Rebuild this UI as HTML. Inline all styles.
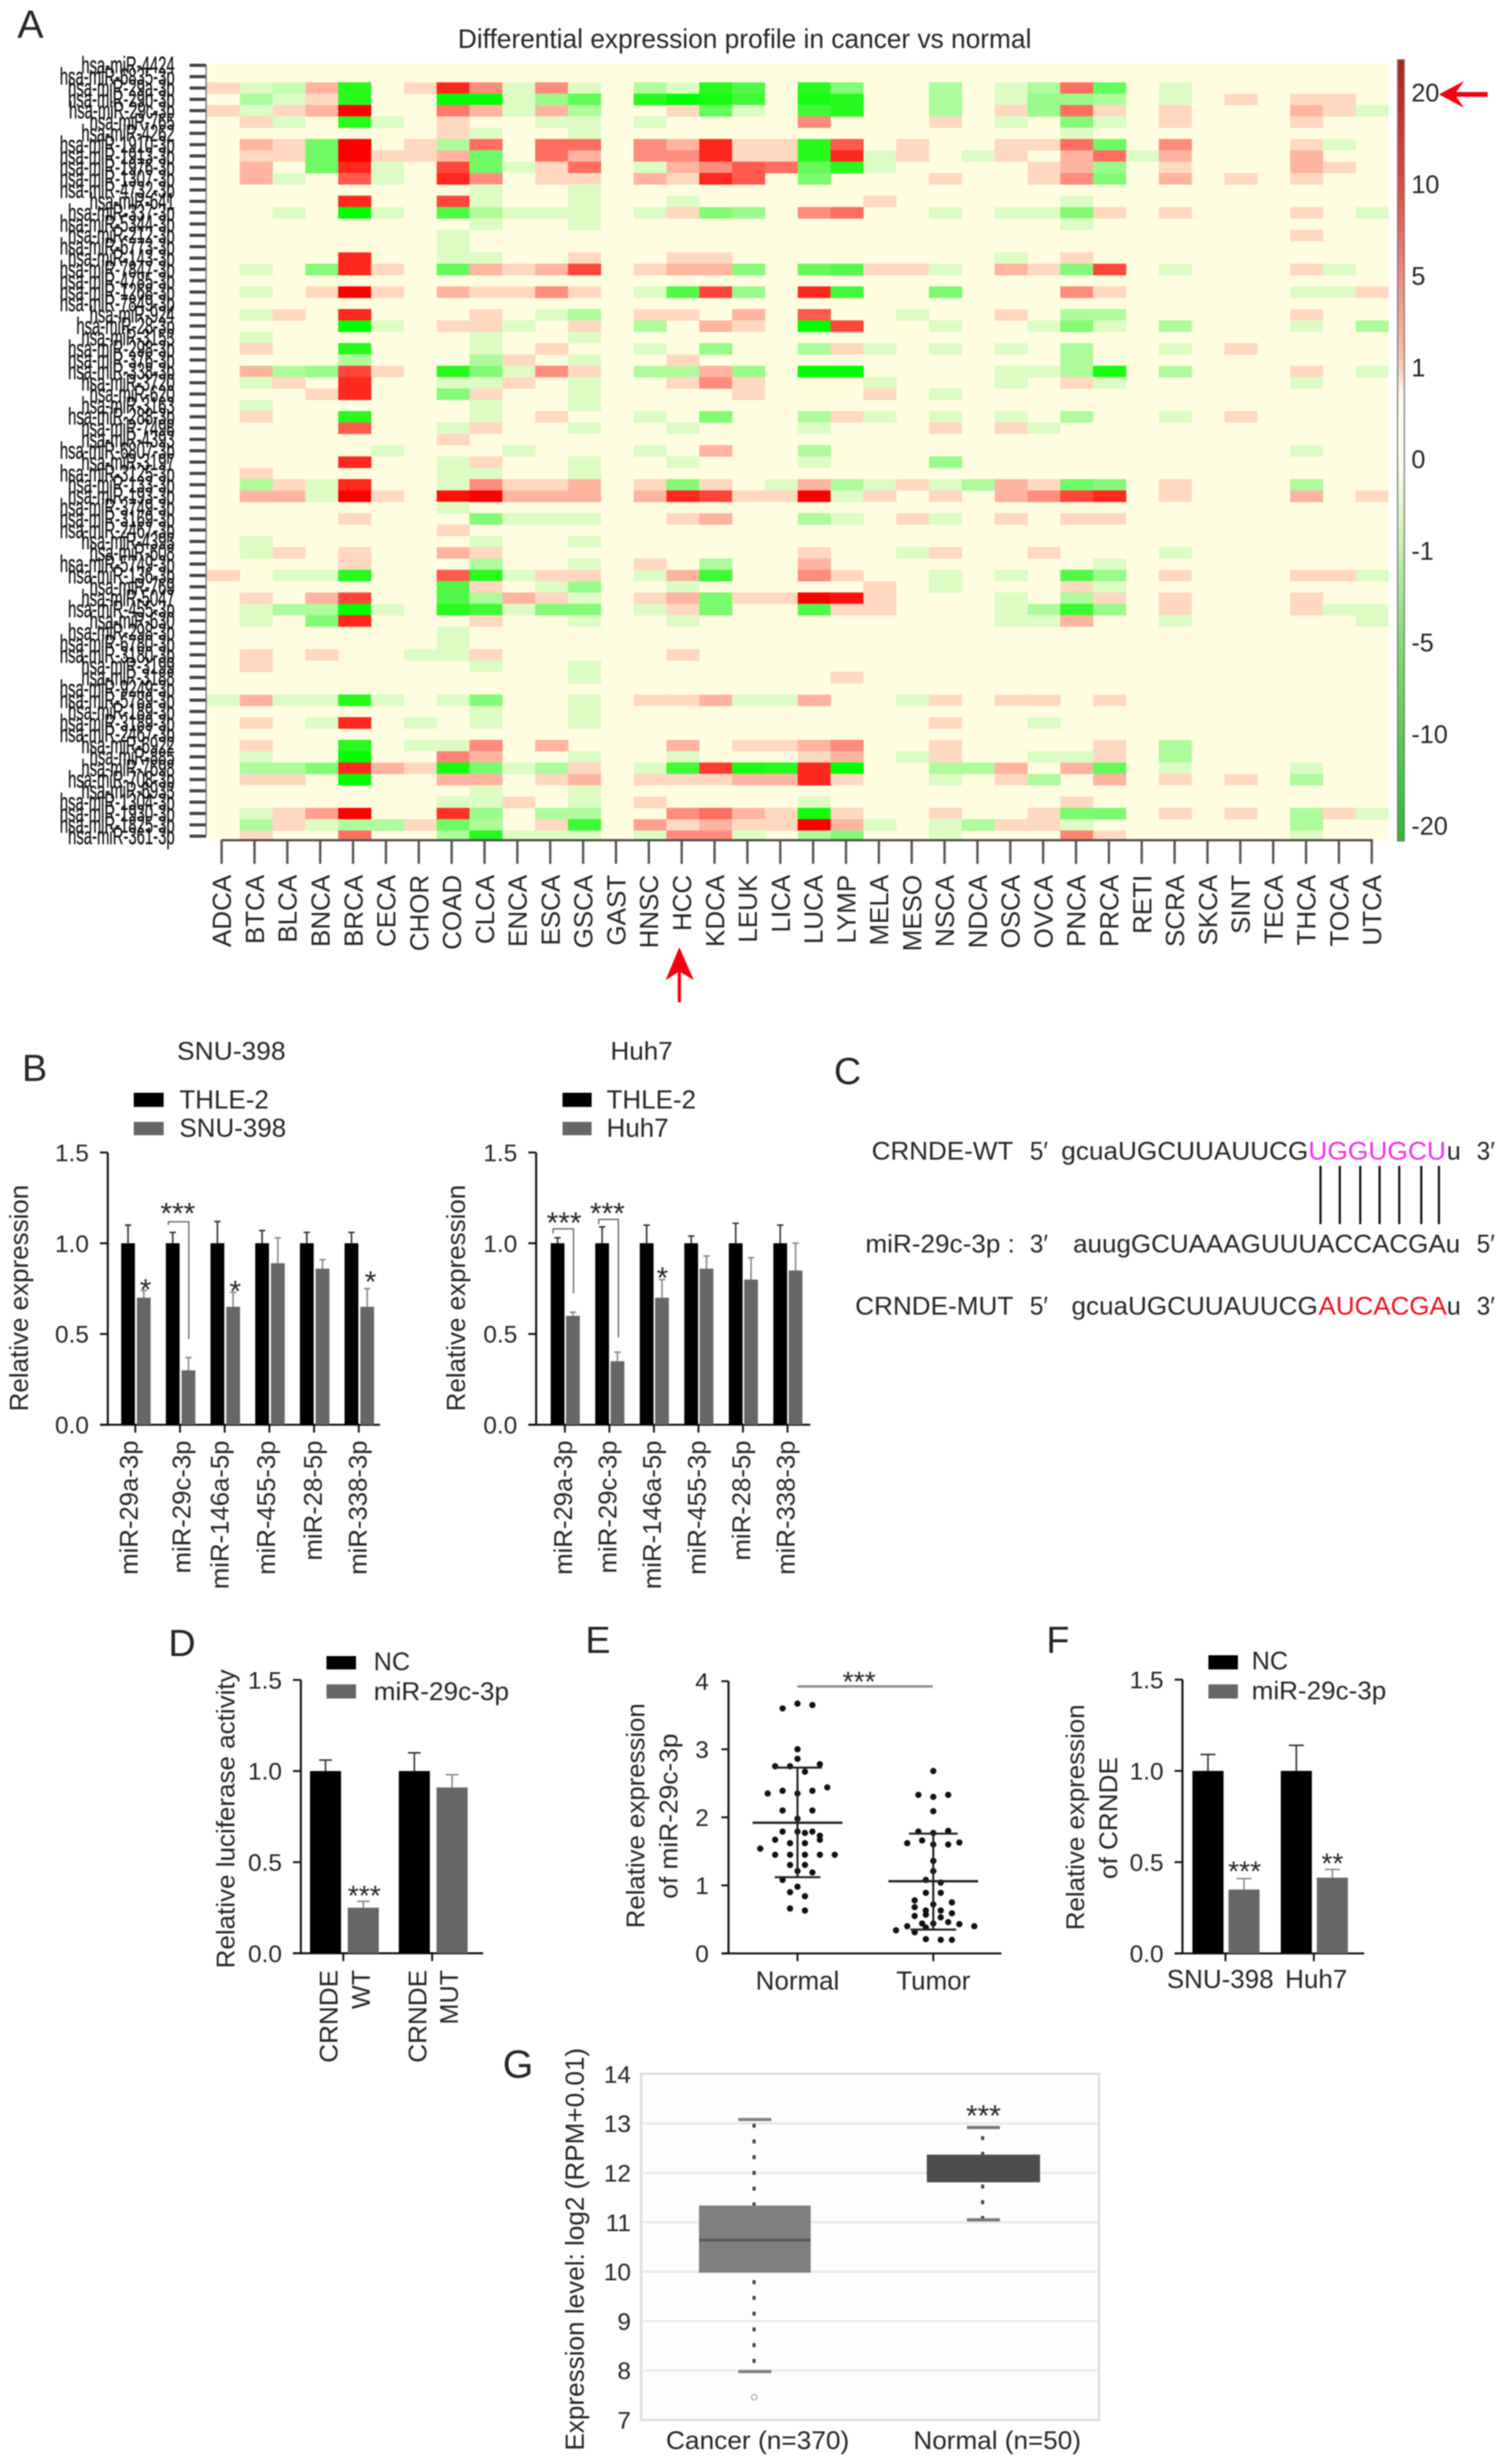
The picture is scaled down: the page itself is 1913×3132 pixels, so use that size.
<!DOCTYPE html>
<html lang="en">
<head>
<meta charset="utf-8">
<title>miR-29c-3p figure</title>
<style>
html,body{margin:0;padding:0;background:#fff;}
svg{display:block;filter:blur(0.8px);}
text{font-family:"Liberation Sans",Arial,sans-serif;fill:#262626;}
</style>
</head>
<body>
<svg id="fig" xmlns="http://www.w3.org/2000/svg" width="1913" height="3132" viewBox="0 0 1913 3132">
<defs>
<linearGradient id="cbGrad" x1="0" y1="76" x2="0" y2="1069" gradientUnits="userSpaceOnUse">
<stop offset="0" stop-color="#a8201a"/><stop offset="0.043" stop-color="#c02a20"/><stop offset="0.16" stop-color="#dd4a40"/><stop offset="0.275" stop-color="#ee8a7a"/><stop offset="0.39" stop-color="#f9c8b4"/><stop offset="0.43" stop-color="#fffdf0"/><stop offset="0.51" stop-color="#fffff0"/><stop offset="0.625" stop-color="#c8f0b0"/><stop offset="0.745" stop-color="#80e070"/><stop offset="0.86" stop-color="#58d048"/><stop offset="1" stop-color="#2cb82c"/>
</linearGradient>
<clipPath id="heatClip"><rect x="263" y="80" width="1502" height="988"/></clipPath>
</defs>

<!-- Panel letters -->
<text x="22" y="48" font-size="50">A</text>
<text x="28" y="1374" font-size="48">B</text>
<text x="1060" y="1378" font-size="48">C</text>
<text x="214" y="2105" font-size="48">D</text>
<text x="744" y="2101" font-size="48">E</text>
<text x="1330" y="2101" font-size="48">F</text>
<text x="639" y="2641" font-size="50">G</text>

<!-- Panel A static -->
<text x="582" y="61" font-size="34" textLength="729" lengthAdjust="spacingAndGlyphs" fill="#333">Differential expression profile in cancer vs normal</text>
<rect x="263" y="80" width="1502" height="988" fill="#fffde0"/>
<g id="heatCells" clip-path="url(#heatClip)"></g>
<g id="heatRowLabels"></g>
<g id="heatRowTicks"></g>
<line x1="262" y1="83" x2="262" y2="1062" stroke="#666" stroke-width="1.5"/>
<line x1="281" y1="1068" x2="1745" y2="1068" stroke="#555" stroke-width="3"/>
<g id="heatColTicks"></g>
<g id="heatColLabels"></g>
<rect x="1776.5" y="76" width="8.5" height="993" fill="url(#cbGrad)" stroke="#777" stroke-width="1.5"/>
<g id="cbLabels"></g>
<polygon points="1829,120 1861,103 1851,117 1891,117 1891,123 1851,123 1861,137" fill="#f5000f"/>
<polygon points="863.5,1204 882,1246 865.5,1236 865.5,1274 861.5,1274 861.5,1236 846,1246" fill="#f5000f"/>

<!-- Panel B static -->
<text x="225" y="1347" font-size="32" textLength="138" lengthAdjust="spacingAndGlyphs">SNU-398</text>
<text x="776" y="1347" font-size="32" textLength="79" lengthAdjust="spacingAndGlyphs">Huh7</text>
<rect x="170" y="1389" width="38" height="18" fill="#000"/>
<rect x="170" y="1426" width="38" height="17" fill="#666"/>
<text x="228" y="1409" font-size="33">THLE-2</text>
<text x="228" y="1445" font-size="33">SNU-398</text>
<rect x="715" y="1389" width="37" height="18" fill="#000"/>
<rect x="715" y="1426" width="37" height="17" fill="#666"/>
<text x="771" y="1409" font-size="33">THLE-2</text>
<text x="771" y="1445" font-size="33">Huh7</text>
<text transform="rotate(-90 35.5 1650)" x="35.5" y="1650" text-anchor="middle" font-size="33" textLength="288" lengthAdjust="spacingAndGlyphs">Relative expression</text>
<text transform="rotate(-90 591 1650)" x="591" y="1650" text-anchor="middle" font-size="33" textLength="288" lengthAdjust="spacingAndGlyphs">Relative expression</text>
<g id="chartB1"></g>
<g id="chartB2"></g>
<g>
<text x="185" y="1652" text-anchor="middle" font-size="38" fill="#111">*</text>
<text x="226" y="1555" text-anchor="middle" font-size="38" fill="#111">***</text>
<path d="M214 1557 V1553 H240 V1702" fill="none" stroke="#555" stroke-width="1.5"/>
<text x="299" y="1654" text-anchor="middle" font-size="38" fill="#111">*</text>
<text x="471" y="1642" text-anchor="middle" font-size="38" fill="#111">*</text>
</g>
<g>
<text x="717" y="1567" text-anchor="middle" font-size="38" fill="#111">***</text>
<path d="M703 1568 V1562 H729 V1644" fill="none" stroke="#555" stroke-width="1.5"/>
<text x="772" y="1555" text-anchor="middle" font-size="38" fill="#111">***</text>
<path d="M761 1556 V1550 H786 V1700" fill="none" stroke="#555" stroke-width="1.5"/>
<text x="842" y="1637" text-anchor="middle" font-size="38" fill="#111">*</text>
</g>

<!-- Panel C -->
<g font-size="32">
<text x="1108" y="1474" textLength="180" lengthAdjust="spacingAndGlyphs">CRNDE-WT</text>
<text x="1309" y="1474" textLength="23" lengthAdjust="spacingAndGlyphs">5′</text>
<text x="1349" y="1474" textLength="314" lengthAdjust="spacingAndGlyphs">gcuaUGCUUAUUCG</text>
<text x="1663" y="1474" textLength="175" lengthAdjust="spacingAndGlyphs" style="fill:#f030f0">UGGUGCU</text>
<text x="1839" y="1474">u</text>
<text x="1877" y="1474" textLength="23" lengthAdjust="spacingAndGlyphs">3′</text>
<text x="1100" y="1592" textLength="190" lengthAdjust="spacingAndGlyphs">miR-29c-3p :</text>
<text x="1309" y="1592" textLength="23" lengthAdjust="spacingAndGlyphs">3′</text>
<text x="1364" y="1592" textLength="492" lengthAdjust="spacingAndGlyphs">auugGCUAAAGUUUACCACGAu</text>
<text x="1877" y="1592" textLength="23" lengthAdjust="spacingAndGlyphs">5′</text>
<text x="1087" y="1671" textLength="201" lengthAdjust="spacingAndGlyphs">CRNDE-MUT</text>
<text x="1309" y="1671" textLength="23" lengthAdjust="spacingAndGlyphs">5′</text>
<text x="1362" y="1671" textLength="313" lengthAdjust="spacingAndGlyphs">gcuaUGCUUAUUCG</text>
<text x="1676" y="1671" textLength="163" lengthAdjust="spacingAndGlyphs" style="fill:#f01020">AUCACGA</text>
<text x="1839" y="1671">u</text>
<text x="1877" y="1671" textLength="23" lengthAdjust="spacingAndGlyphs">3′</text>
<path d="M1678.5 1482V1556M1703 1482V1556M1729 1482V1556M1753.6 1482V1556M1778.6 1482V1556M1806.6 1482V1556M1829 1482V1556" stroke="#111" stroke-width="2.8"/>
</g>

<!-- Panel D static -->
<rect x="415" y="2105" width="37.5" height="17" fill="#000"/>
<rect x="415" y="2141" width="37.5" height="18" fill="#666"/>
<text x="475" y="2123" font-size="32">NC</text>
<text x="475" y="2161" font-size="32" textLength="172" lengthAdjust="spacingAndGlyphs">miR-29c-3p</text>
<text transform="rotate(-90 298 2312)" x="298" y="2312" text-anchor="middle" font-size="32" textLength="380" lengthAdjust="spacingAndGlyphs">Relative luciferase activity</text>
<g id="chartD"></g>
<text x="463" y="2422" text-anchor="middle" font-size="36" fill="#111">***</text>
<text transform="rotate(-90 429 2504)" x="429" y="2504" text-anchor="end" font-size="32" textLength="118" lengthAdjust="spacingAndGlyphs">CRNDE</text>
<text transform="rotate(-90 470 2504)" x="470" y="2504" text-anchor="end" font-size="32">WT</text>
<text transform="rotate(-90 542 2504)" x="542" y="2504" text-anchor="end" font-size="32" textLength="118" lengthAdjust="spacingAndGlyphs">CRNDE</text>
<text transform="rotate(-90 582 2504)" x="582" y="2504" text-anchor="end" font-size="32">MUT</text>

<!-- Panel E static -->
<text transform="rotate(-90 819 2308)" x="819" y="2308" text-anchor="middle" font-size="32" textLength="286" lengthAdjust="spacingAndGlyphs">Relative expression</text>
<text transform="rotate(-90 861 2308.5)" x="861" y="2308.5" text-anchor="middle" font-size="32" textLength="210" lengthAdjust="spacingAndGlyphs">of miR-29c-3p</text>
<g id="chartE"></g>
<line x1="1013.7" y1="2143.6" x2="1185.6" y2="2143.6" stroke="#888" stroke-width="3"/>
<text x="1092" y="2150" text-anchor="middle" font-size="36" fill="#111">***</text>

<!-- Panel F static -->
<rect x="1536" y="2104" width="37.5" height="18" fill="#000"/>
<rect x="1536" y="2141" width="37.5" height="18" fill="#666"/>
<text x="1591" y="2122" font-size="32">NC</text>
<text x="1591" y="2160" font-size="32" textLength="171" lengthAdjust="spacingAndGlyphs">miR-29c-3p</text>
<text transform="rotate(-90 1378 2310)" x="1378" y="2310" text-anchor="middle" font-size="32" textLength="287" lengthAdjust="spacingAndGlyphs">Relative expression</text>
<text transform="rotate(-90 1420 2311)" x="1420" y="2311" text-anchor="middle" font-size="32" textLength="155" lengthAdjust="spacingAndGlyphs">of CRNDE</text>
<g id="chartF"></g>
<text x="1582" y="2391" text-anchor="middle" font-size="36" fill="#111">***</text>
<text x="1693.7" y="2381" text-anchor="middle" font-size="36" fill="#111">**</text>

<!-- Panel G static -->
<text transform="rotate(-90 742 2859)" x="742" y="2859" text-anchor="middle" font-size="33" textLength="512" lengthAdjust="spacingAndGlyphs">Expression level: log2 (RPM+0.01)</text>
<rect x="815" y="2636" width="582" height="440" fill="#fdfdfd" stroke="#ddd" stroke-width="3"/>
<g id="chartG"></g>
<text x="1250" y="2702" text-anchor="middle" font-size="38" fill="#111">***</text>

<script>
// ---------- Panel A data ----------
const heatColumns = ['ADCA','BTCA','BLCA','BNCA','BRCA','CECA','CHOR','COAD','CLCA','ENCA','ESCA','GSCA','GAST','HNSC','HCC','KDCA','LEUK','LICA','LUCA','LYMP','MELA','MESO','NSCA','NDCA','OSCA','OVCA','PNCA','PRCA','RETI','SCRA','SKCA','SINT','TECA','THCA','TOCA','UTCA'];
const heatRows = ['hsa-miR-4424','hsa-miR-6835-3p','hsa-miR-29a-3p','hsa-miR-29b-3p','hsa-miR-29c-3p','hsa-miR-765','hsa-miR-4262','hsa-miR-1910-3p','hsa-miR-1913-3p','hsa-miR-1976-3p','hsa-miR-1307-3p','hsa-miR-4732-3p','hsa-miR-641','hsa-miR-337-3p','hsa-miR-5344-3p','hsa-miR-212-3p','hsa-miR-6773-3p','hsa-miR-143-3p','hsa-miR-7847-3p','hsa-miR-4785-3p','hsa-miR-1268-3p','hsa-miR-7849-3p','hsa-miR-924','hsa-miR-28-3p','hsa-miR-3153','hsa-miR-298-3p','hsa-miR-376-3p','hsa-miR-338-3p','hsa-miR-3720','hsa-miR-620','hsa-miR-3163','hsa-miR-288-3p','hsa-miR-7498','hsa-miR-4393','hsa-miR-6807-3p','hsa-miR-3197','hsa-miR-3125-3p','hsa-miR-133-3p','hsa-miR-193-3p','hsa-miR-3749-3p','hsa-miR-3169-3p','hsa-miR-2467-3p','hsa-miR-4393','hsa-miR-608','hsa-miR-5749-3p','hsa-miR-136-3p','hsa-miR-769','hsa-miR-5047','hsa-miR-455-3p','hsa-miR-630','hsa-miR-298-3p','hsa-miR-6780-3p','hsa-miR-3180-3p','hsa-miR-3199','hsa-miR-3188','hsa-miR-9249-3p','hsa-miR-5789-3p','hsa-miR-189-3p','hsa-miR-3189-3p','hsa-miR-2467-3p','hsa-miR-6922','hsa-miR-885','hsa-miR-7698','hsa-miR-708-3p','hsa-miR-6933','hsa-miR-1304-3p','hsa-miR-1930-3p','hsa-miR-1825-3p','hsa-miR-361-3p'];
const heatValues = [
{},
{},
{0:1,1:-1,2:-2,3:3,4:-15,6:1,7:15,8:5,9:-1,10:5,11:-1,13:-3,14:-1,15:-15,16:-10,18:-15,19:-5,22:-3,24:-1,25:-3,26:8,27:-8,29:-1},
{1:-3,2:-1,3:1,4:-15,7:-20,8:-20,9:-1,10:-4,11:-8,13:-15,14:-20,15:-17,16:-12,18:-17,19:-15,22:-3,24:-1,25:-4,26:-4,27:-3,29:-1,31:1,33:1,34:1},
{0:1,1:-1,2:1,3:3,4:20,7:7,8:3,9:-1,10:3,11:-3,14:1,15:-8,16:-1,18:-12,19:-15,22:-3,24:1,25:-4,26:8,27:1,29:1,33:3,34:1,35:-1},
{1:1,2:-1,4:-15,5:-1,7:1,10:-1,11:-1,13:-1,18:5,22:1,24:-1,26:-5,27:-1,29:1,33:1},
{7:1,8:-1,11:-1,26:-1},
{1:3,2:1,3:-7,4:20,6:1,7:-3,8:8,10:8,11:8,13:5,14:3,15:15,16:1,17:1,18:-15,19:10,21:1,24:1,25:1,26:8,27:-7,29:5,33:1,34:-1},
{1:1,2:1,3:-7,4:20,5:1,6:1,7:3,8:-7,10:8,11:3,13:5,14:5,15:15,16:1,17:1,18:-15,19:15,20:-1,21:1,23:-1,24:1,26:3,27:8,28:-1,29:3,33:3},
{1:3,3:-7,4:15,5:-1,7:12,8:-7,9:-1,10:1,11:8,13:-1,14:3,15:5,16:10,17:8,18:-8,19:-15,20:-1,25:1,26:3,27:-4,29:1,33:3,34:1},
{1:3,2:-1,4:10,5:-1,7:15,8:5,10:1,11:1,13:3,14:1,15:15,16:10,18:-6,22:1,25:1,26:5,27:-5,29:3,31:1,33:1},
{8:-1,11:-1},
{4:15,7:12,8:-1,11:-1,14:-1,20:1,26:-1},
{2:-1,4:-20,5:-1,7:-10,8:-3,9:-1,10:-1,11:-1,13:-1,14:1,15:-5,16:-4,18:5,19:8,22:-1,24:-1,25:-1,26:-5,27:1,29:1,33:1,35:-1},
{8:-1,11:-1,26:-1},
{7:-1,33:1},
{7:-1},
{4:15,7:-1,8:-1,11:1,14:1,15:1,24:-1,26:1},
{1:-1,3:-5,4:15,5:1,7:-8,8:3,9:1,10:3,11:12,13:1,14:3,15:3,16:-5,18:-8,19:-10,20:1,21:1,22:-1,24:3,25:1,26:-5,27:12,29:-1,33:1,34:-1},
{},
{1:-1,3:1,4:20,5:1,7:3,8:1,9:1,10:5,11:1,13:-1,14:-10,15:12,16:-4,18:15,19:-12,22:-6,26:5,27:1,33:-1,34:-1,35:1},
{},
{1:-1,2:1,4:15,8:1,10:-1,11:-3,13:1,14:1,16:3,18:10,21:-1,24:1,26:-3,27:-3,33:1},
{4:-20,5:-1,7:1,8:1,9:-1,11:1,13:-3,15:3,16:1,18:-20,19:12,22:-1,25:-1,26:-5,27:-1,29:-3,33:-1,35:-3},
{1:-1,8:-1,11:-1},
{1:1,4:-15,8:-1,10:1,13:-1,15:-4,18:-3,19:1,20:-1,22:-1,24:-1,26:-3,29:-1,31:1},
{4:-3,8:-3,9:1,11:-1,14:1,26:-3},
{1:3,2:-3,3:-4,4:12,5:1,7:-15,8:-5,9:-1,10:5,11:1,13:-3,14:-3,15:3,16:-4,18:-20,19:-20,24:-1,25:-1,26:-3,27:-17,29:-3,33:1,35:-1},
{1:-1,2:1,4:15,7:-1,8:-1,9:1,11:-1,14:1,15:5,16:1,20:-1,24:-1,26:1,27:-1,33:-1},
{3:1,4:15,7:-5,8:1,11:-1,16:1,20:1,22:-1},
{1:-1,8:-1,11:-1},
{1:1,4:-15,8:-1,10:1,13:-1,15:-5,18:-3,19:1,20:-1,22:-1,24:-1,26:-3,29:-1,31:1},
{4:10,7:-1,8:1,11:-1,14:-1,18:-1,22:1,24:1,25:-1},
{7:1},
{5:-1,9:-1,13:-1,15:3,18:-3,33:-1},
{4:15,7:-1,8:1,11:-1,14:-1,18:-1,22:-4},
{1:1,7:-1,8:-1,11:-1},
{1:-3,2:1,3:-1,4:15,7:-1,8:5,9:1,10:1,11:3,13:1,14:-5,15:1,17:-1,18:3,19:-3,20:-1,21:1,22:-1,23:-3,24:3,25:1,26:-7,27:-5,29:1,33:-3},
{1:3,2:3,3:-1,4:20,5:1,7:18,8:20,9:3,10:3,11:3,13:3,14:15,15:12,16:1,17:1,18:20,19:-1,20:1,22:1,24:3,25:5,26:12,27:15,29:1,33:3,35:1},
{7:-1},
{4:1,8:-5,9:-1,10:-1,11:-1,14:1,15:3,18:-3,19:-1,21:1,22:-1,24:1,26:1,27:1},
{7:1},
{1:-1,8:-1,11:-1},
{1:-1,2:1,4:1,7:3,8:1,18:1,21:-1,22:1,25:1,29:-1},
{4:1,8:-3,11:-1,13:1,15:-3,18:3,27:-1},
{0:1,2:-1,3:-1,4:-15,7:10,8:-15,9:-1,10:1,11:1,13:-1,14:3,15:-12,18:5,19:1,22:-1,24:-1,26:-10,27:-4,29:1,33:1,34:1,35:-1},
{7:-10,8:1,10:-1,11:-4,14:-1,20:1,22:-1,26:1,27:-1},
{1:1,3:3,4:12,7:-10,8:-3,9:3,10:1,11:-1,13:1,14:3,15:-6,16:1,17:1,18:20,19:18,20:1,24:-1,26:-3,27:1,29:1,33:1},
{1:-1,2:-3,3:-3,4:-20,5:-1,7:-15,8:-12,9:-1,10:-5,11:-5,13:-1,14:1,15:-6,18:-10,19:1,20:1,24:-1,25:-3,26:-13,27:-4,29:1,33:1,34:-1,35:-1},
{1:-1,3:-5,4:15,8:1,11:-1,14:-1,24:-1,25:-1,26:3,29:-1,35:-1},
{7:-1},
{7:-1},
{1:1,3:1,6:-1,7:-1,8:1,14:1},
{1:1,8:-1,11:-1},
{11:-1,19:1},
{},
{0:-1,1:3,2:-1,3:-1,4:-15,5:-1,7:-1,8:-5,11:-1,13:1,14:1,15:3,16:-1,17:-1,18:3,21:-1,22:1,24:1,25:1,27:1},
{8:-1,11:-1},
{1:1,3:-1,4:15,6:-1,8:-1,11:-1,22:1,25:-1},
{},
{1:1,4:-15,6:-1,7:-1,8:5,10:3,14:3,16:1,17:1,18:3,19:5,22:1,27:1,29:-3},
{1:-1,4:-20,7:6,8:3,11:-1,14:-1,18:1,19:3,21:-1,22:1,25:-1,26:-1,27:1,29:-3},
{1:-3,2:-3,3:-5,4:15,5:3,6:1,7:-17,8:-6,9:-1,10:-3,11:1,13:-1,14:-12,15:13,16:-17,17:-15,18:15,19:-20,22:-3,23:-3,24:3,26:3,27:-8,29:-1,33:-1},
{1:1,2:1,4:-20,7:3,8:3,10:1,11:3,13:1,14:1,15:1,16:3,17:3,18:15,19:1,22:-1,24:1,25:-3,27:3,29:1,31:1,33:-3},
{8:-1,11:-1},
{7:-1,8:-1,9:1,11:-1,13:1,18:-1,26:1},
{1:-1,2:1,3:4,4:20,7:14,8:-4,10:-3,11:-3,14:5,15:8,16:3,17:1,18:-18,19:1,22:1,25:1,26:-6,27:-6,29:1,31:1,33:-3,34:1,35:-1},
{1:-3,2:1,3:-1,4:-3,5:-3,6:1,7:-7,8:-3,10:1,11:-12,13:4,14:1,15:3,16:1,17:1,18:20,19:3,20:-1,22:-1,23:-3,24:1,25:1,26:-1,33:-3},
{1:1,4:8,7:-3,8:-15,9:-1,10:-1,11:-1,13:-1,14:5,15:5,16:-1,18:-3,19:-5,22:-1,26:6,27:1,33:-1}
];
const colorbarLabels = ['20','10','5','1','0','-1','-5','-10','-20'];

// ---------- Panel B data ----------
const bCategories = ['miR-29a-3p','miR-29c-3p','miR-146a-5p','miR-455-3p','miR-28-5p','miR-338-3p'];
const barTicks = [0, 0.5, 1, 1.5];
const b1Control = [1, 1, 1, 1, 1, 1];
const b1ControlErr = [0.10, 0.06, 0.12, 0.07, 0.06, 0.06];
const b1Treated = [0.70, 0.30, 0.65, 0.89, 0.86, 0.65];
const b1TreatedErr = [0.04, 0.07, 0.08, 0.14, 0.05, 0.10];
const b2Control = [1, 1, 1, 1, 1, 1];
const b2ControlErr = [0.03, 0.09, 0.10, 0.04, 0.11, 0.10];
const b2Treated = [0.60, 0.35, 0.70, 0.86, 0.80, 0.85];
const b2TreatedErr = [0.02, 0.05, 0.10, 0.07, 0.12, 0.15];

// ---------- Panel D data ----------
const dControl = [1, 1];
const dControlErr = [0.06, 0.10];
const dTreated = [0.25, 0.91];
const dTreatedErr = [0.035, 0.07];

// ---------- Panel E data ----------
const eTicks = [0, 1, 2, 3, 4];
const eGroups = ['Normal', 'Tumor'];
const normalValues = [3.60,3.67,3.65,3.00,2.86,2.75,2.67,2.75,2.78,2.44,2.39,2.39,2.35,2.35,2.10,2.10,1.98,1.79,1.79,1.77,1.79,1.73,1.67,1.62,1.62,1.67,1.54,1.45,1.45,1.45,1.45,1.45,1.30,1.30,1.21,1.19,1.08,0.98,0.90,0.84,0.66,0.63];
const normalSlots = [-2,0,2,0,0,-1,1,-3,3,4,2,-2,-4,0,-2,2,0,-2,0,1,2,3,-3,-1,1,3,-5,-3,-1,1,3,5,-1,1,0,2,-2,0,-1,1,-1,1];
const tumorValues = [2.68,2.33,2.30,2.33,2.09,1.79,1.77,1.80,1.62,1.66,1.60,1.60,1.63,1.36,1.21,1.08,1.04,0.89,0.89,0.78,0.75,0.72,0.68,0.63,0.63,0.55,0.57,0.59,0.53,0.44,0.44,0.46,0.43,0.40,0.40,0.38,0.34,0.31,0.21,0.20,0.20];
const tumorSlots = [0,-2,0,2,0,-2,0,2,-3.5,-1.5,0,2,3.5,0,0,-1,1,-1,1,-2.5,2.5,0,-2.5,-1,1,-2.5,-1,2.5,1,-1.5,0,2,3.5,-3.5,5.5,-1,-5,-2.5,-1,1,2.5];
const eMeans = [1.92, 1.06];
const eUpper = [2.73, 1.76];
const eLower = [1.12, 0.35];

// ---------- Panel F data ----------
const fCategories = ['SNU-398', 'Huh7'];
const fControl = [1, 1];
const fControlErr = [0.09, 0.14];
const fTreated = [0.35, 0.415];
const fTreatedErr = [0.06, 0.045];

// ---------- Panel G data ----------
const gTicks = [14, 13, 12, 11, 10, 9, 8, 7];
const gGroups = ['Cancer (n=370)', 'Normal (n=50)'];
const gQ1 = [9.98, 11.81];
const gQ3 = [11.34, 12.37];
const gMedian = [10.64, 12.1];
const gWhiskerLow = [7.98, 11.05];
const gWhiskerHigh = [13.08, 12.92];
const gOutliers = [7.46];

// ---------- helpers ----------
const NS = 'http://www.w3.org/2000/svg';
function mk(parent, tag, attrs, txt) {
  const el = document.createElementNS(NS, tag);
  for (const k in attrs) el.setAttribute(k, attrs[k]);
  if (txt !== undefined) el.textContent = txt;
  parent.appendChild(el);
  return el;
}
function g(id) { return document.getElementById(id); }

const posStops = [[0,255,253,224],[1,255,216,192],[3,255,180,160],[5,255,140,124],[10,255,90,78],[15,255,40,30],[20,255,0,0]];
const negStops = [[0,255,253,224],[1,220,252,196],[3,174,251,156],[5,132,250,118],[10,80,249,72],[15,40,250,30],[20,0,255,0]];
function heatColor(v) {
  const s = v >= 0 ? posStops : negStops;
  const a = Math.min(Math.abs(v), 20);
  for (let i = 1; i < s.length; i++) {
    if (a <= s[i][0]) {
      const t = (a - s[i-1][0]) / (s[i][0] - s[i-1][0]);
      const c = [1,2,3].map(j => Math.round(s[i-1][j] + (s[i][j] - s[i-1][j]) * t));
      return 'rgb(' + c.join(',') + ')';
    }
  }
  return 'rgb(255,0,0)';
}

// ---------- Panel A heatmap ----------
const heatLeft = 263, colW = 41.72, rowFirst = 83, rowH = 14.41;
const colX = c => heatLeft + colW * c;
const rowY = r => rowFirst + rowH * r;
const colTick = c => 281.7 + 41.77 * c;

heatValues.forEach((row, r) => {
  Object.keys(row).forEach(k => {
    const c = +k;
    const cell = mk(g('heatCells'), 'rect', {x: colX(c), y: rowY(r) - rowH / 2, width: colW + 0.4, height: rowH + 0.4, fill: heatColor(row[k])});
    
    
  });
});
heatRows.forEach((name, r) => {
  const t = mk(g('heatRowLabels'), 'text', {transform: 'translate(222 ' + (rowY(r) + 10) + ') scale(0.61 1)', 'text-anchor': 'end', 'font-size': 31, style: 'fill:#111;stroke:#111;stroke-width:0.35'}, name);
  
  
  const tick = mk(g('heatRowTicks'), 'line', {x1: 241, x2: 262, y1: rowY(r), y2: rowY(r), stroke: '#444', 'stroke-width': 4});
  
  
});
heatColumns.forEach((name, c) => {
  const x = colTick(c);
  const tick = mk(g('heatColTicks'), 'line', {x1: x, x2: x, y1: 1068, y2: 1098, stroke: '#555', 'stroke-width': 3});
  
  
  const t = mk(g('heatColLabels'), 'text', {transform: 'rotate(-90 ' + (x + 12) + ' 1112)', x: x + 12, y: 1112, 'text-anchor': 'end', 'font-size': 33}, name);
  
  
});
colorbarLabels.forEach((lab, i) => {
  const t = mk(g('cbLabels'), 'text', {x: 1794, y: 118 + 116.5 * i + 11, 'font-size': 32}, lab);
  
  
});

// ---------- Bar charts ----------
function drawBars(root, o) {
  const yOf = v => o.y0 - v * o.unit;
  const axis = mk(root, 'path', {d: 'M' + o.axisX + ' ' + yOf(1.5) + ' V' + o.y0 + ' M' + (o.axisX - 10) + ' ' + o.y0 + ' H' + o.axisEnd, fill: 'none', stroke: '#111', 'stroke-width': 2.6});
  
  
  barTicks.forEach(t => {
    const tk = mk(root, 'line', {x1: o.axisX - 10, x2: o.axisX, y1: yOf(t), y2: yOf(t), stroke: '#111', 'stroke-width': 2.4});
    
    
    const lb = mk(root, 'text', {x: o.axisX - 24, y: yOf(t) + 11, 'text-anchor': 'end', 'font-size': 31}, t.toFixed(1));
    
    
  });
  o.control.forEach((v, i) => {
    const tx = o.tickX(i);
    const tk = mk(root, 'line', {x1: tx, x2: tx, y1: o.y0, y2: o.y0 + 10, stroke: '#111', 'stroke-width': 2.4});
    
    
    [[v, o.controlErr[i], tx - o.ctrlOff, '#000', '#333'], [o.treated[i], o.treatedErr[i], tx + o.treatOff, '#666', '#8a8a8a']].forEach((s, k) => {
      const cx = s[2] + o.barW / 2;
      const err = mk(root, 'path', {d: 'M' + cx + ' ' + yOf(s[0]) + ' V' + yOf(s[0] + s[1]) + ' M' + (cx - o.cap) + ' ' + yOf(s[0] + s[1]) + ' H' + (cx + o.cap), fill: 'none', stroke: s[4], 'stroke-width': 2});
      
      
      const bar = mk(root, 'rect', {x: s[2], y: yOf(s[0]), width: o.barW, height: s[0] * o.unit, fill: s[3]});
      
      
    });
  });
}
function rotatedLabels(root, cats, tickX, top, shift) {
  cats.forEach((name, i) => {
    const x = tickX(i) + shift(i);
    const t = mk(root, 'text', {transform: 'rotate(-90 ' + x + ' ' + top + ')', x: x, y: top, 'text-anchor': 'end', 'font-size': 32.7}, name);
    
    
  });
}
const b1Tick = i => 172 + 56.8 * i;
const b2Tick = i => 718 + 56.6 * i;
drawBars(g('chartB1'), {axisX: 137, axisEnd: 483, y0: 1811, unit: 230.7, tickX: b1Tick, barW: 17.5, ctrlOff: 18, treatOff: 2, cap: 4, control: b1Control, controlErr: b1ControlErr, treated: b1Treated, treatedErr: b1TreatedErr});
drawBars(g('chartB2'), {axisX: 681.5, axisEnd: 1030, y0: 1811, unit: 230.7, tickX: b2Tick, barW: 17.5, ctrlOff: 18, treatOff: 1.5, cap: 4, control: b2Control, controlErr: b2ControlErr, treated: b2Treated, treatedErr: b2TreatedErr});
function b1Shift(i) { return i === 0 ? 3 : i === 1 ? 13 : i === 2 ? 5 : i === 3 ? 7 : 10; }
rotatedLabels(g('chartB1'), bCategories, b1Tick, 1831, b1Shift);
rotatedLabels(g('chartB2'), bCategories, b2Tick, 1831, () => 9);
const dTick = i => 436.4 + 112.9 * i;
drawBars(g('chartD'), {axisX: 382.4, axisEnd: 614, y0: 2482.8, unit: 231.6, tickX: dTick, barW: 39.5, ctrlOff: 42.4, treatOff: 5.6, cap: 8, control: dControl, controlErr: dControlErr, treated: dTreated, treatedErr: dTreatedErr});
const fTick = i => 1557.7 + 112.3 * i;
drawBars(g('chartF'), {axisX: 1503, axisEnd: 1734, y0: 2483, unit: 232, tickX: fTick, barW: 39.5, ctrlOff: 42, treatOff: 3.8, cap: 9.5, control: fControl, controlErr: fControlErr, treated: fTreated, treatedErr: fTreatedErr});
fCategories.forEach((name, i) => {
  const t = mk(g('chartF'), 'text', {x: i === 0 ? 1551 : 1673, y: 2527, 'text-anchor': 'middle', 'font-size': 33}, name);
  
  
});

// ---------- Panel E scatter ----------
(function () {
  const root = g('chartE');
  const y0 = 2483, unit = 86.5, slot = 9.47;
  const yOf = v => y0 - v * unit;
  const centers = [1013.7, 1186.3];
  const axis = mk(root, 'path', {d: 'M926 ' + yOf(4) + ' V' + y0 + ' M917 ' + y0 + ' H1273', fill: 'none', stroke: '#111', 'stroke-width': 2.6});
  
  
  eTicks.forEach(t => {
    const tk = mk(root, 'line', {x1: 917, x2: 926, y1: yOf(t), y2: yOf(t), stroke: '#111', 'stroke-width': 2.4});
    
    
    const lb = mk(root, 'text', {x: 901, y: yOf(t) + 11, 'text-anchor': 'end', 'font-size': 31}, String(t));
    
    
  });
  [[normalValues, normalSlots], [tumorValues, tumorSlots]].forEach((s, gi) => {
    const cx = centers[gi];
    s[0].forEach((v, i) => {
      const pt = mk(root, 'circle', {cx: cx + s[1][i] * slot, cy: yOf(v), r: 4, fill: '#111'});
      
      
    });
    const sd = mk(root, 'path', {d: 'M' + cx + ' ' + yOf(eUpper[gi]) + ' V' + yOf(eLower[gi]) + ' M' + (cx - 31) + ' ' + yOf(eUpper[gi]) + ' H' + (cx + 31) + ' M' + (cx - 29) + ' ' + yOf(eLower[gi]) + ' H' + (cx + 29), fill: 'none', stroke: '#222', 'stroke-width': 2.6});
    
    
    const mean = mk(root, 'line', {x1: cx - 57, x2: cx + 57, y1: yOf(eMeans[gi]), y2: yOf(eMeans[gi]), stroke: '#222', 'stroke-width': 3});
    
    
    const tk = mk(root, 'line', {x1: cx, x2: cx, y1: y0, y2: y0 + 10, stroke: '#111', 'stroke-width': 2.4});
    
    
    const lb = mk(root, 'text', {x: cx, y: 2529, 'text-anchor': 'middle', 'font-size': 33}, eGroups[gi]);
    
    
  });
})();

// ---------- Panel G boxplot ----------
(function () {
  const root = g('chartG');
  const gUnit = 62.8;
  const yOf = v => 3076 - (v - 7) * gUnit;
  gTicks.forEach(t => {
    if (t > 7 && t < 14) {
      const gl = mk(root, 'line', {x1: 817, x2: 1395, y1: yOf(t), y2: yOf(t), stroke: '#e8e8e8', 'stroke-width': 2.6});
      
      
    }
    const lb = mk(root, 'text', {x: 802, y: yOf(t) + 11, 'text-anchor': 'end', 'font-size': 31}, String(t));
    
    
  });
  const centers = [959.5, 1250];
  const fills = ['#7f7f7f', '#4d4d4d'];
  const capFill = ['#808080', '#777'];
  const hw = [71, 72];
  const dashOffsetUp = [1, 1.5];
  const dashOffsetDown = [-9.5, -2.8];
  gGroups.forEach((name, i) => {
    const cx = centers[i];
    const up = mk(root, 'line', {x1: cx - 1, x2: cx - 1, y1: yOf(gQ3[i]), y2: yOf(gWhiskerHigh[i]), stroke: '#444', 'stroke-width': 4, 'stroke-dasharray': '5 15', 'stroke-dashoffset': dashOffsetUp[i]});
    
    
    const down = mk(root, 'line', {x1: cx - 1, x2: cx - 1, y1: yOf(gQ1[i]), y2: yOf(gWhiskerLow[i]), stroke: '#444', 'stroke-width': 4, 'stroke-dasharray': '5 15', 'stroke-dashoffset': dashOffsetDown[i]});
    
    
    [gWhiskerHigh[i], gWhiskerLow[i]].forEach(v => {
      const c = mk(root, 'line', {x1: cx - 21, x2: cx + 21, y1: yOf(v), y2: yOf(v), stroke: capFill[i], 'stroke-width': 4});
      
      
    });
    const box = mk(root, 'rect', {x: cx - hw[i], y: yOf(gQ3[i]), width: hw[i] * 2, height: (gQ3[i] - gQ1[i]) * gUnit, fill: fills[i]});
    
    
    if (i === 0) {
      const m = mk(root, 'line', {x1: cx - hw[i], x2: cx + hw[i], y1: yOf(gMedian[i]), y2: yOf(gMedian[i]), stroke: '#555', 'stroke-width': 3.5});
      
      
    }
    const lb = mk(root, 'text', {x: i === 0 ? 963 : 1267.5, y: 3113, 'text-anchor': 'middle', 'font-size': 32, textLength: i === 0 ? 233 : 213, lengthAdjust: 'spacingAndGlyphs'}, name);
    
    
  });
  gOutliers.forEach(v => {
    const o = mk(root, 'circle', {cx: 958.8, cy: yOf(v), r: 3.5, fill: '#fff', stroke: '#aaa', 'stroke-width': 1.5});
    
    
  });
})();
</script>
</svg>
</body>
</html>
